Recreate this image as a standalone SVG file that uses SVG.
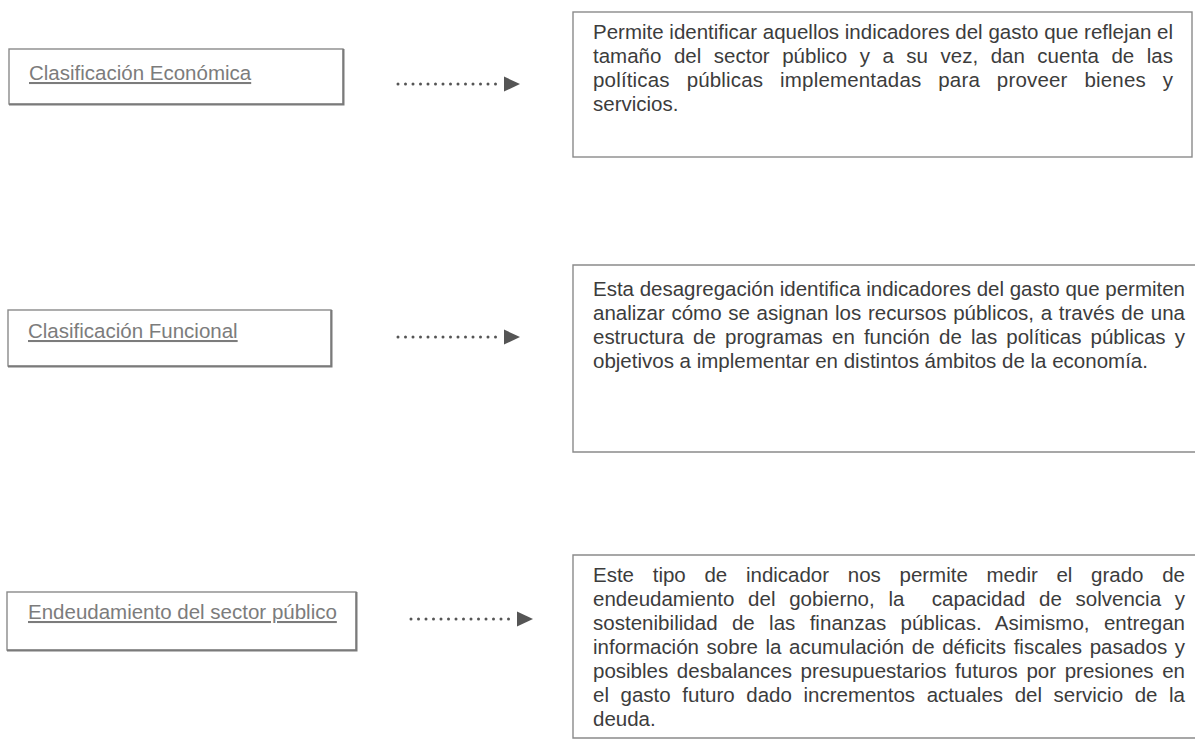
<svg xmlns="http://www.w3.org/2000/svg" width="1195" height="740" viewBox="0 0 1195 740">
<style>
.box{fill:#fff;stroke:#8a8a8a;stroke-width:1.4}
.shadow{fill:none;stroke:#7a7a7a;stroke-width:2}
.lbl{font-family:"Liberation Sans",Arial,sans-serif;font-size:20.5px;fill:#7c7c7c;text-decoration:underline}
.body{font-family:"Liberation Sans",Arial,sans-serif;font-size:20.5px;fill:#3c3c3c}
.dots{stroke:#555;stroke-width:3;stroke-linecap:round;stroke-dasharray:0 7.5;fill:none}
.head{fill:#555}
</style>
<rect width="1195" height="740" fill="#fff"/>
<g id="node-eco">
<rect class="box" x="9" y="49" width="334" height="55"/>
<path class="shadow" d="M9,104.5 H343.5 V49"/>
<text class="lbl" x="29" y="80">Clasificación Económica</text>
</g>
<g id="desc-eco">
<rect class="box" x="573" y="12" width="619" height="145"/>
<text class="body" x="593" y="39" textLength="580" lengthAdjust="spacing">Permite identificar aquellos indicadores del gasto que reflejan el</text>
<text class="body" x="593" y="63" word-spacing="6.8" textLength="580" lengthAdjust="spacing">tamaño del sector público y a su vez, dan cuenta de las</text>
<text class="body" x="593" y="87" word-spacing="11" textLength="580" lengthAdjust="spacing">políticas públicas implementadas para proveer bienes y</text>
<text class="body" x="593" y="111">servicios.</text>
</g>
<g id="node-fun">
<rect class="box" x="8" y="310" width="323" height="56"/>
<path class="shadow" d="M8,366.5 H331.5 V310"/>
<text class="lbl" x="28" y="338">Clasificación Funcional</text>
</g>
<g id="desc-fun">
<path class="box" d="M1197,265 H573 V452 H1197"/>
<text class="body" x="593" y="296" textLength="592" lengthAdjust="spacing">Esta desagregación identifica indicadores del gasto que permiten</text>
<text class="body" x="593" y="320" word-spacing="1" textLength="592" lengthAdjust="spacing">analizar cómo se asignan los recursos públicos, a través de una</text>
<text class="body" x="593" y="344" word-spacing="3.5" textLength="592" lengthAdjust="spacing">estructura de programas en función de las políticas públicas y</text>
<text class="body" x="593" y="368">objetivos a implementar en distintos ámbitos de la economía.</text>
</g>
<g id="node-deu">
<rect class="box" x="7" y="592" width="349" height="58"/>
<path class="shadow" d="M7,650.5 H356.5 V592"/>
<text class="lbl" x="28" y="619">Endeudamiento del sector público</text>
</g>
<g id="desc-deu">
<path class="box" d="M1197,555 H573 V738 H1197"/>
<text class="body" x="593" y="582" word-spacing="13" textLength="592" lengthAdjust="spacing">Este tipo de indicador nos permite medir el grado de</text>
<text class="body" x="593" y="606" xml:space="preserve" word-spacing="8" textLength="592" lengthAdjust="spacing">endeudamiento del gobierno, la  capacidad de solvencia y</text>
<text class="body" x="593" y="630" word-spacing="8.6" textLength="592" lengthAdjust="spacing">sostenibilidad de las finanzas públicas. Asimismo, entregan</text>
<text class="body" x="593" y="654" word-spacing="1.9" textLength="592" lengthAdjust="spacing">información sobre la acumulación de déficits fiscales pasados y</text>
<text class="body" x="593" y="678" word-spacing="2.9" textLength="592" lengthAdjust="spacing">posibles desbalances presupuestarios futuros por presiones en</text>
<text class="body" x="593" y="702" word-spacing="5.9" textLength="592" lengthAdjust="spacing">el gasto futuro dado incrementos actuales del servicio de la</text>
<text class="body" x="593" y="726">deuda.</text>
</g>
<g id="connectors">
<path class="dots" d="M398,84 H503"/>
<polygon class="head" points="504,76.5 520,84 504,91.5"/>
<path class="dots" d="M398,337 H503"/>
<polygon class="head" points="504,329.5 520,337 504,344.5"/>
<path class="dots" d="M411,619 H516"/>
<polygon class="head" points="517,611.5 533,619 517,626.5"/>
</g>
</svg>
